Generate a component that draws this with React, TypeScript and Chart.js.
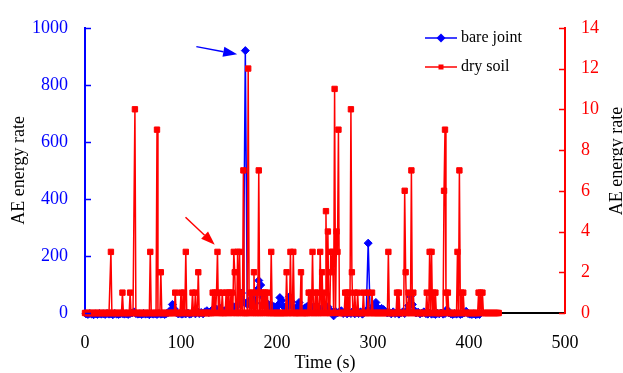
import React, { useEffect, useRef } from "react";
import { Chart, registerables } from "chart.js";

Chart.register(...registerables);

const BLUE = "#0000FF";
const RED = "#FF0000";
const FONT = "'Liberation Serif', 'Times New Roman', serif";

// Axis ticks
const timeTicks = [0, 100, 200, 300, 400, 500];
const leftTicks = [0, 200, 400, 600, 800, 1000];
const rightTicks = [0, 2, 4, 6, 8, 10, 12, 14];

// Series labels
const seriesNames = ["bare joint", "dry soil"];

// bare joint: AE energy rate sampled every 2 s starting at t = 1 s (left axis)
const bareJointStart = 1;
const bareJointStep = 2;
const bareJointRate = [
  -3, -5, -2, -4, -6, -3, -5, -2, -4, -3,
  -5, -2, -4, -3, -6, -2, -4, -5, -3, -2,
  -4, -3, -5, -2, 0, 4, -2, -4, -3, -5,
  -2, -4, -3, -6, -2, -4, -3, -5, -2, -4,
  -3, -5, -2, 2, 10, 30, 14, 2, -3, -2,
  -4, -2, -3, 0, -4, -2, 3, -3, 6, -2,
  2, -3, 4, 8, 2, 6, 12, 4, 14, 8,
  16, 10, 4, 12, 18, 8, 14, 22, 10, 26,
  36, 70, 40, 920, 30, 44, 26, 48, 34, 80,
  114, 98, 56, 36, 24, 30, 18, 26, 22, 14,
  28, 54, 44, 22, 16, 26, 58, 40, 18, 14,
  22, 37, 16, 12, 18, 22, 26, 14, 20, 16,
  26, 18, 10, 16, 8, 14, 22, 10, 4, -10,
  6, 0, 4, 8, -2, 4, -3, 2, -2, 6,
  -3, 2, -2, 4, -4, 2, 8, 245, 6, 14,
  26, 37, 18, 12, 16, 12, 6, 0, 3, -3,
  4, -2, 2, -4, 0, 4, -2, 8, 26, 58,
  30, 10, 0, 3, -3, 0, 4, -2, -4, 0,
  -4, -2, -5, -1, -3, 0, -4, -2, 12, 0,
  -3, -5, -2, -4, -1, -5, -3, 0, 6, -2,
  -4, -5, -3, -6, -4, -5,
];

// dry soil: AE energy rate sampled every 1 s starting at t = 0 s (right axis)
const drySoilStart = 0;
const drySoilStep = 1;
const drySoilRate = [
  0, 0, 0, 0, 0, 0, 0, 0, 0, 0, 0, 0, 0, 0, 0, 0, 0, 0, 0, 0,
  0, 0, 0, 0, 0, 0, 0, 3, 0, 0, 0, 0, 0, 0, 0, 0, 0, 0, 0, 1,
  0, 0, 0, 0, 0, 0, 0, 1, 0, 0, 0, 0, 10, 0, 0, 0, 0, 0, 0, 0,
  0, 0, 0, 0, 0, 0, 0, 0, 3, 0, 0, 0, 0, 0, 0, 9, 0, 0, 0, 2,
  0, 0, 0, 0, 0, 0, 0, 0, 0, 0, 0, 0, 0, 0, 1, 0, 0, 0, 0, 0,
  1, 0, 0, 1, 0, 3, 0, 0, 0, 0, 0, 0, 1, 0, 0, 1, 0, 0, 2, 0,
  0, 0, 0, 0, 0, 0, 0, 0, 0, 0, 0, 0, 0, 1, 0, 1, 0, 1, 3, 0,
  1, 0, 0, 1, 0, 0, 0, 1, 0, 1, 0, 1, 0, 1, 0, 3, 2, 0, 0, 3,
  0, 3, 0, 1, 0, 7, 0, 0, 0, 0, 12, 0, 1, 0, 1, 0, 2, 0, 0, 1,
  0, 7, 0, 0, 1, 0, 1, 0, 1, 0, 1, 0, 0, 0, 3, 0, 0, 0, 0, 0,
  0, 0, 0, 0, 0, 0, 0, 0, 0, 0, 2, 0, 0, 0, 3, 0, 0, 3, 0, 0,
  0, 0, 0, 0, 0, 2, 0, 0, 0, 0, 0, 0, 0, 1, 0, 1, 0, 3, 0, 0,
  1, 0, 1, 0, 0, 3, 0, 2, 0, 1, 0, 5, 0, 4, 0, 0, 3, 2, 3, 0,
  11, 0, 4, 3, 9, 0, 0, 0, 0, 0, 0, 1, 0, 1, 0, 1, 0, 10, 2, 0,
  0, 1, 0, 0, 1, 0, 0, 0, 0, 0, 1, 0, 0, 0, 0, 1, 0, 0, 0, 1,
  0, 0, 0, 0, 0, 0, 0, 0, 0, 0, 0, 0, 0, 0, 0, 0, 3, 0, 0, 0,
  0, 0, 0, 0, 0, 1, 0, 1, 0, 0, 0, 0, 0, 6, 2, 0, 0, 1, 0, 0,
  7, 0, 1, 0, 0, 0, 0, 0, 0, 0, 0, 0, 0, 0, 0, 0, 1, 0, 0, 3,
  0, 3, 0, 1, 0, 1, 0, 0, 0, 0, 0, 0, 0, 0, 6, 9, 1, 0, 1, 0,
  0, 0, 0, 0, 0, 0, 0, 0, 3, 0, 7, 0, 1, 0, 1, 0, 0, 0, 0, 0,
  0, 0, 0, 0, 0, 0, 0, 0, 0, 0, 1, 0, 1, 0, 1, 0, 0, 0, 0, 0,
  0, 0, 0, 0, 0, 0, 0, 0, 0, 0, 0, 0,
];

// Annotation arrows in data units: [time, left-axis value]
const blueArrowFrom = [116, 934];
const blueArrowTo = [158.5, 907];
const redArrowFrom = [104.7, 336];
const redArrowTo = [135.2, 239];

function drawArrow(ctx: CanvasRenderingContext2D, x0: number, y0: number, x1: number, y1: number, color: string) {
  const ang = Math.atan2(y1 - y0, x1 - x0);
  const headLen = 14;
  const headHalf = 5;
  const bx = x1 - headLen * Math.cos(ang);
  const by = y1 - headLen * Math.sin(ang);
  ctx.strokeStyle = color;
  ctx.fillStyle = color;
  ctx.lineWidth = 1.5;
  ctx.beginPath();
  ctx.moveTo(x0, y0);
  ctx.lineTo(bx, by);
  ctx.stroke();
  ctx.beginPath();
  ctx.moveTo(x1, y1);
  ctx.lineTo(bx + headHalf * Math.sin(ang), by - headHalf * Math.cos(ang));
  ctx.lineTo(bx - headHalf * Math.sin(ang), by + headHalf * Math.cos(ang));
  ctx.closePath();
  ctx.fill();
}

const decorPlugin = {
  id: "decor",
  afterDraw(chart: any) {
    const ctx: CanvasRenderingContext2D = chart.ctx;
    const xs = chart.scales.x;
    const yl = chart.scales.y;
    const yr = chart.scales.y1;
    ctx.save();

    // inward tick marks
    ctx.lineWidth = 1.5;
    ctx.strokeStyle = BLUE;
    yl.ticks.forEach((t: any) => {
      const py = Math.round(yl.getPixelForValue(t.value)) + 0.5;
      ctx.beginPath();
      ctx.moveTo(yl.right, py);
      ctx.lineTo(yl.right + 6, py);
      ctx.stroke();
    });
    ctx.strokeStyle = RED;
    yr.ticks.forEach((t: any) => {
      const py = Math.round(yr.getPixelForValue(t.value)) + 0.5;
      ctx.beginPath();
      ctx.moveTo(yr.left - 6, py);
      ctx.lineTo(yr.left, py);
      ctx.stroke();
    });

    // arrows
    drawArrow(
      ctx,
      xs.getPixelForValue(blueArrowFrom[0]), yl.getPixelForValue(blueArrowFrom[1]),
      xs.getPixelForValue(blueArrowTo[0]), yl.getPixelForValue(blueArrowTo[1]),
      BLUE
    );
    drawArrow(
      ctx,
      xs.getPixelForValue(redArrowFrom[0]), yl.getPixelForValue(redArrowFrom[1]),
      xs.getPixelForValue(redArrowTo[0]), yl.getPixelForValue(redArrowTo[1]),
      RED
    );

    // legend
    const lx0 = 425, lx1 = 457, mx = 441, tx = 461;
    const ly = [38, 67];
    ctx.font = `16px ${FONT}`;
    ctx.textBaseline = "middle";
    ctx.textAlign = "left";
    ctx.strokeStyle = BLUE;
    ctx.fillStyle = BLUE;
    ctx.lineWidth = 1.5;
    ctx.beginPath();
    ctx.moveTo(lx0, ly[0]);
    ctx.lineTo(lx1, ly[0]);
    ctx.stroke();
    ctx.beginPath();
    ctx.moveTo(mx, ly[0] - 4.5);
    ctx.lineTo(mx + 4.5, ly[0]);
    ctx.lineTo(mx, ly[0] + 4.5);
    ctx.lineTo(mx - 4.5, ly[0]);
    ctx.closePath();
    ctx.fill();
    ctx.strokeStyle = RED;
    ctx.fillStyle = RED;
    ctx.beginPath();
    ctx.moveTo(lx0, ly[1]);
    ctx.lineTo(lx1, ly[1]);
    ctx.stroke();
    ctx.fillRect(mx - 2.5, ly[1] - 2.5, 5, 5);
    ctx.fillStyle = "#000";
    ctx.fillText(seriesNames[0], tx, ly[0]);
    ctx.fillText(seriesNames[1], tx, ly[1]);

    // right axis title (reads bottom to top)
    ctx.font = `18px ${FONT}`;
    ctx.textAlign = "center";
    ctx.textBaseline = "alphabetic";
    ctx.fillStyle = "#000";
    ctx.translate(622, 161);
    ctx.rotate(-Math.PI / 2);
    ctx.fillText("AE energy rate", 0, 0);
    ctx.restore();
  },
};

const tickFont = { family: FONT, size: 18 };

export default function App() {
  const canvasRef = useRef<HTMLCanvasElement | null>(null);

  useEffect(() => {
    const canvas = canvasRef.current;
    if (!canvas) return;
    Chart.defaults.font.family = FONT;

    const bareData = bareJointRate.map((v, i) => ({ x: bareJointStart + i * bareJointStep, y: v }));
    const soilData = drySoilRate.map((v, i) => ({ x: drySoilStart + i * drySoilStep, y: v }));

    const chart = new Chart(canvas, {
      type: "line",
      data: {
        datasets: [
          {
            label: seriesNames[0],
            data: bareData,
            yAxisID: "y",
            borderColor: BLUE,
            backgroundColor: BLUE,
            borderWidth: 1.5,
            pointStyle: "rectRot",
            pointRadius: 4,
            pointBorderWidth: 1,
            pointBorderColor: BLUE,
            pointBackgroundColor: BLUE,
            tension: 0,
            clip: false,
            order: 1,
          },
          {
            label: seriesNames[1],
            data: soilData,
            yAxisID: "y1",
            borderColor: RED,
            backgroundColor: RED,
            borderWidth: 1.5,
            pointStyle: "rect",
            pointRadius: 3.8,
            pointBorderWidth: 1,
            pointBorderColor: RED,
            pointBackgroundColor: RED,
            tension: 0,
            clip: false,
            order: 0,
          },
        ],
      },
      options: {
        responsive: false,
        animation: false,
        devicePixelRatio: 1,
        layout: { padding: { top: 20, left: 0, right: 0, bottom: 0 } },
        plugins: {
          legend: { display: false },
          tooltip: { enabled: false },
        },
        scales: {
          x: {
            type: "linear",
            min: 0,
            max: 500,
            afterBuildTicks: (s: any) => { s.ticks = timeTicks.map((v) => ({ value: v })); },
            afterFit: (s: any) => { s.height = 60; },
            grid: { display: false, drawTicks: false },
            border: { display: true, color: "#000", width: 2 },
            ticks: { color: "#000", font: tickFont, padding: 19, maxRotation: 0, autoSkip: false, callback: (v: any) => String(v) },
            title: {
              display: true,
              text: "Time (s)",
              color: "#000",
              font: { family: FONT, size: 18, lineHeight: 1.1 },
              padding: { top: 0, bottom: 0 },
            },
          },
          y: {
            type: "linear",
            position: "left",
            min: 0,
            max: 1000,
            afterBuildTicks: (s: any) => { s.ticks = leftTicks.map((v) => ({ value: v })); },
            afterFit: (s: any) => { s.width = 85; },
            grid: { display: false, drawTicks: false },
            border: { display: true, color: BLUE, width: 2 },
            ticks: { color: BLUE, font: tickFont, padding: 17, callback: (v: any) => String(v) },
            title: {
              display: true,
              text: "AE energy rate",
              color: "#000",
              font: { family: FONT, size: 18 },
              padding: { top: 8, bottom: 0 },
            },
          },
          y1: {
            type: "linear",
            position: "right",
            min: 0,
            max: 14,
            afterBuildTicks: (s: any) => { s.ticks = rightTicks.map((v) => ({ value: v })); },
            afterFit: (s: any) => { s.width = 58; },
            grid: { display: false, drawTicks: false },
            border: { display: true, color: RED, width: 2 },
            ticks: { color: RED, font: tickFont, padding: 16, callback: (v: any) => String(v) },
          },
        },
      },
      plugins: [decorPlugin],
    });

    return () => {
      chart.destroy();
    };
  }, []);

  return (
    <div style={{ position: "absolute", left: 0, top: 0, width: 623, height: 373, background: "#fff" }}>
      <canvas ref={canvasRef} width={623} height={373} style={{ display: "block", width: 623, height: 373 }} />
    </div>
  );
}
